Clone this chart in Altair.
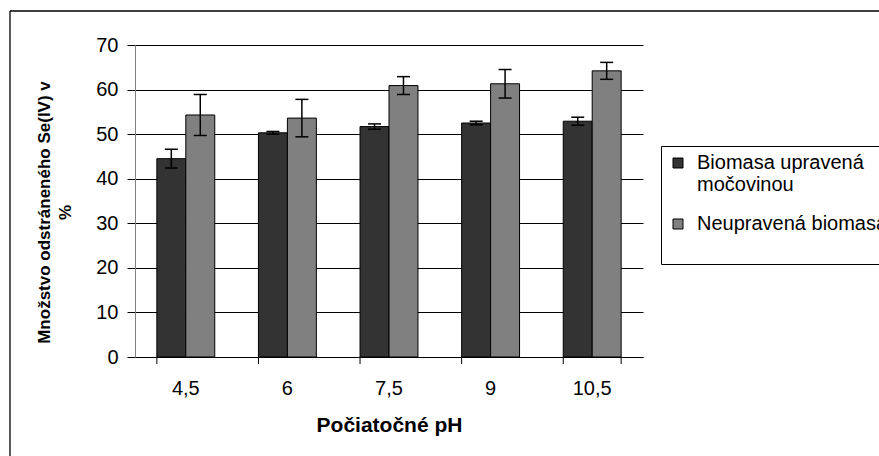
import altair as alt
import pandas as pd

ph = ["4,5", "6", "7,5", "9", "10,5"]
series = ["Biomasa upravená močovinou", "Neupravená biomasa"]
urea = [44.5, 50.3, 51.7, 52.5, 52.9]
urea_err = [2.1, 0.3, 0.6, 0.4, 0.9]
raw = [54.3, 53.6, 60.9, 61.3, 64.2]
raw_err = [4.6, 4.2, 2.0, 3.2, 1.9]
colors = ["#333333", "#808080"]
y_ticks = [0, 10, 20, 30, 40, 50, 60, 70]

rows = []
for i, p in enumerate(ph):
    rows.append(dict(ph=p, s=series[0], v=urea[i], lo=urea[i] - urea_err[i], hi=urea[i] + urea_err[i]))
    rows.append(dict(ph=p, s=series[1], v=raw[i], lo=raw[i] - raw_err[i], hi=raw[i] + raw_err[i]))
df = pd.DataFrame(rows)
cats = pd.DataFrame({"ph": ph})
one = pd.DataFrame({"a": [0]})

W, H = 508, 312
FONT = "Liberation Sans"

xscale = alt.Scale(domain=ph, paddingInner=0.43, paddingOuter=0.215)
xaxis = alt.Axis(title="Počiatočné pH", labelAngle=0, ticks=False, tickSize=0,
                 labelPadding=21, titlePadding=16, domainColor="black",
                 labelFont=FONT, labelFontSize=20, labelColor="black",
                 titleFont=FONT, titleFontSize=21, titleFontWeight="bold", titleColor="black")
yscale = alt.Scale(domain=[0, 70])
yaxis = alt.Axis(values=y_ticks, title=["Množstvo odstráneného Se(IV) v", "%"],
                 grid=True, gridColor="black", gridWidth=1,
                 domainColor="#808080", tickColor="black", tickSize=8, labelPadding=9,
                 labelFont=FONT, labelFontSize=20, labelColor="black",
                 titleFont=FONT, titleFontSize=17, titleFontWeight="bold", titleColor="black",
                 titleX=-91, titleY=167, titleAngle=-90, titleAlign="center",
                 titleBaseline="middle", titleLineHeight=21)

X = alt.X("ph:N", sort=ph, scale=xscale, axis=xaxis)
XO = alt.XOffset("s:N", sort=series, scale=alt.Scale(domain=series))

legend = alt.Legend(title=" ", titleOrient="bottom", titleFontSize=18, orient="none",
                    legendX=526, legendY=101, strokeColor="black", fillColor="white",
                    padding=7, symbolType="square", symbolSize=100,
                    symbolStrokeColor="black", symbolStrokeWidth=1,
                    labelFont=FONT, labelFontSize=20, labelColor="black", labelOffset=9,
                    labelLimit=500, rowPadding=19,
                    labelExpr="datum.label == 'Biomasa upravená močovinou' ? ['Biomasa upravená', 'močovinou'] : datum.label")

bars = alt.Chart(df).mark_bar(stroke="black", strokeWidth=1).encode(
    x=X, xOffset=XO,
    y=alt.Y("v:Q", scale=yscale, axis=yaxis),
    color=alt.Color("s:N", sort=series, scale=alt.Scale(domain=series, range=colors), legend=legend),
)

err_rule = alt.Chart(df).mark_rule(color="black", strokeWidth=1.5).encode(
    x=X, xOffset=XO, y=alt.Y("lo:Q", scale=yscale), y2="hi:Q")
err_hi = alt.Chart(df).mark_tick(color="black", thickness=1.5, size=13, opacity=1).encode(
    x=X, xOffset=XO, y=alt.Y("hi:Q", scale=yscale))
err_lo = alt.Chart(df).mark_tick(color="black", thickness=1.5, size=13, opacity=1).encode(
    x=X, xOffset=XO, y=alt.Y("lo:Q", scale=yscale))

xt = alt.Chart(cats).mark_rule(color="black").encode(
    x=alt.X("ph:N", sort=ph, scale=xscale, bandPosition=0), y=alt.value(H), y2=alt.value(H + 7))
xt_end = alt.Chart(cats).transform_filter(alt.datum.ph == ph[-1]).mark_rule(color="black").encode(
    x=alt.X("ph:N", sort=ph, scale=xscale, bandPosition=1), y=alt.value(H), y2=alt.value(H + 7))

frame_top = alt.Chart(one).mark_rule(color="black", strokeWidth=1.3).encode(
    x=alt.value(-125), x2=alt.value(900), y=alt.value(-34))
frame_left = alt.Chart(one).mark_rule(color="black", strokeWidth=1.3).encode(
    x=alt.value(-125), y=alt.value(-34), y2=alt.value(500))

chart = alt.layer(bars, err_rule, err_hi, err_lo, xt, xt_end, frame_top, frame_left).properties(
    width=W, height=H,
    autosize=alt.AutoSizeParams(type="none"),
    padding={"left": 135, "top": 45, "right": 236, "bottom": 99},
    background="white",
).configure_view(stroke=None)

chart.save("out.html", embed_options={"renderer": "svg", "actions": False})
